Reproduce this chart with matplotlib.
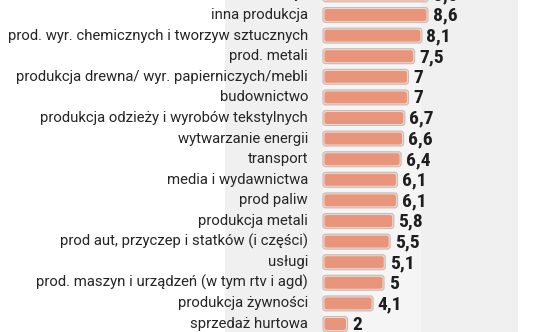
import matplotlib
matplotlib.use("Agg")
import matplotlib.pyplot as plt
from matplotlib.patches import FancyBboxPatch

categories = [
    "telekomunikacja",
    "inna produkcja",
    "prod. wyr. chemicznych i tworzyw sztucznych",
    "prod. metali",
    "produkcja drewna/ wyr. papierniczych/mebli",
    "budownictwo",
    "produkcja odzieży i wyrobów tekstylnych",
    "wytwarzanie energii",
    "transport",
    "media i wydawnictwa",
    "prod paliw",
    "produkcja metali",
    "prod aut, przyczep i statków (i części)",
    "usługi",
    "prod. maszyn i urządzeń (w tym rtv i agd)",
    "produkcja żywności",
    "sprzedaż hurtowa",
]
values = [8.6, 8.6, 8.1, 7.5, 7, 7, 6.7, 6.6, 6.4, 6.1, 6.1, 5.8, 5.5, 5.1, 5, 4.1, 2]
value_labels = ["8,6", "8,6", "8,1", "7,5", "7", "7", "6,7", "6,6", "6,4", "6,1", "6,1",
                "5,8", "5,5", "5,1", "5", "4,1", "2"]

W, H = 536, 332
fig = plt.figure(figsize=(W / 100, H / 100), dpi=100)
fig.patch.set_facecolor("white")
ax = fig.add_axes([0, 0, 1, 1])

x0_px = 323.0
px_per_unit = 12.2
row_px = 20.6
top_px = -5.6  # centre of first row (cut off)

ax.set_xlim(-x0_px / px_per_unit, (W - x0_px) / px_per_unit)
ax.set_ylim((H - top_px) / row_px, (0 - top_px) / row_px)
ax.axis("off")

# background panel
ax.axvspan((225 - x0_px) / px_per_unit, (518 - x0_px) / px_per_unit, color="#f0f0f0", zorder=0, lw=0)
ax.axvspan(0, (421 - x0_px) / px_per_unit, color="#f5f5f5", zorder=0.5, lw=0)

ys = list(range(len(categories)))
bar_h = 0.72
bars = ax.barh(ys, values, height=bar_h, color="none", edgecolor="none")

aspect = px_per_unit / row_px
for rect in bars.patches:
    x, y = rect.get_x(), rect.get_y()
    w, h = rect.get_width(), rect.get_height()
    outer = FancyBboxPatch((x, y), w, h,
                           boxstyle="round,pad=0,rounding_size=0.22",
                           mutation_aspect=aspect,
                           facecolor="#f6ddd3", edgecolor="#c9bdb7", lw=0.9, zorder=2)
    ax.add_patch(outer)
    ix = 0.12
    iy = 0.07
    inner = FancyBboxPatch((x + ix, y + iy), w - 2 * ix, h - 2 * iy,
                           boxstyle="round,pad=0,rounding_size=0.18",
                           mutation_aspect=aspect,
                           facecolor="#e9957c", edgecolor="none", zorder=3)
    ax.add_patch(inner)

label_x = (308 - x0_px) / px_per_unit
for y, cat in zip(ys, categories):
    ax.text(label_x, y, cat, ha="right", va="center", fontsize=10.7,
            family=["Roboto", "DejaVu Sans"], color="#262626", zorder=4)

for y, v, lab in zip(ys, values, value_labels):
    ax.text(v + 0.38, y + 0.04, lab, ha="left", va="center", fontsize=14,
            fontweight="bold", family=["Liberation Sans Narrow", "Roboto Condensed", "DejaVu Sans"],
            color="#1e1e1e", zorder=4)

fig.savefig("out.png", dpi=100, facecolor="white")
